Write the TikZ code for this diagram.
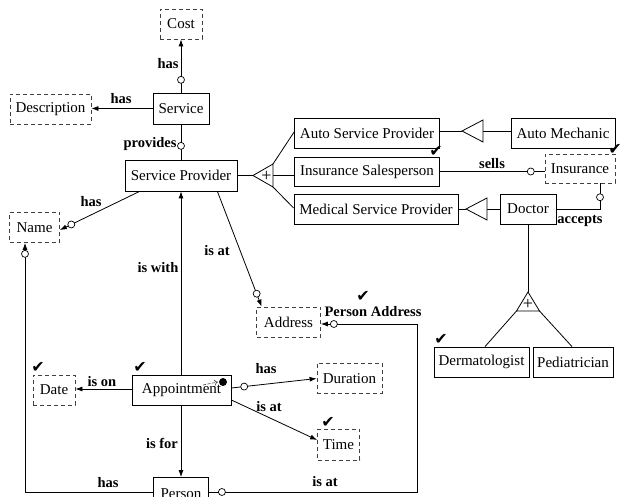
\documentclass[tikz,border=0pt]{standalone}
\usepackage{fontspec}
\setmainfont{Liberation Serif}
\newfontfamily\chkfont{DejaVu Sans}
\usetikzlibrary{arrows.meta,calc}
\begin{document}
\begin{tikzpicture}[x=1pt,y=-1pt,
  ent/.style={draw, line width=0.8pt, inner sep=0pt, font=\fontsize{15}{17}\selectfont},
  val/.style={ent, draw=black!75, dash pattern=on 4pt off 3pt},
  lab/.style={font=\bfseries\fontsize{14.5}{16}\selectfont, inner sep=0pt},
  conn/.style={line width=0.8pt},
  arr/.style={conn, -{Latex[length=7pt,width=5pt]}},
  circ/.style={circle, draw, fill=white, line width=0.7pt, inner sep=0pt, minimum size=7pt},
  tick/.style={font=\chkfont\fontsize{16}{16}\selectfont, inner sep=0pt},
  gen/.style={draw, line width=0.8pt, fill=white},
  plus/.style={font=\fontsize{18}{18}\selectfont, inner sep=0pt}
]
\useasboundingbox (0,0) rectangle (622,497);
\clip (0,0) rectangle (622,497);
\fill[white] (0,0) rectangle (622,497);

% entities
\node[val, minimum width=42pt, minimum height=30pt] (cost) at (181,24) {Cost};
\node[ent, minimum width=56pt, minimum height=31pt] (service) at (181,108.5) {Service};
\node[val, minimum width=81pt, minimum height=30pt] (desc) at (50.5,109) {Description};
\node[ent, minimum width=112pt, minimum height=31pt] (sp) at (181,175.5) {Service Provider};
\node[ent, minimum width=145pt, minimum height=30pt] (asp) at (367,133) {Auto Service Provider};
\node[ent, minimum width=145pt, minimum height=29pt] (is) at (367,171.5) {Insurance Salesperson};
\node[ent, minimum width=164pt, minimum height=30pt] (msp) at (376,209) {Medical Service Provider};
\node[ent, minimum width=104pt, minimum height=30pt] (am) at (563,133) {Auto Mechanic};
\node[val, minimum width=70pt, minimum height=29pt] (ins) at (580,168.5) {Insurance};
\node[ent, minimum width=56pt, minimum height=30pt] (doc) at (528,209) {Doctor};
\node[ent, minimum width=95pt, minimum height=30pt] (derm) at (481.5,362) {Dermatologist};
\node[ent, minimum width=80pt, minimum height=30pt] (ped) at (573,362) {Pediatrician};
\node[val, minimum width=50pt, minimum height=30pt] (name) at (34.5,227.5) {Name};
\node[val, minimum width=64pt, minimum height=30pt] (addr) at (288.5,322) {Address};
\node[ent, minimum width=99pt, minimum height=30pt] (appt) at (181.5,390) {Appointment};
\node[val, minimum width=42pt, minimum height=30pt] (date) at (54,390) {Date};
\node[val, minimum width=65pt, minimum height=30pt] (dur) at (349.5,378.5) {Duration};
\node[val, minimum width=42pt, minimum height=31pt] (time) at (338.5,444.5) {Time};
\node[ent, minimum width=55pt, minimum height=33pt] (person) at (181,494) {Person};

% Service connectors
\draw[arr] (service.north) -- node[circ,pos=0.24]{} (cost.south);
\draw[arr] (service.west) -- (service.west -| desc.east);
\draw[conn] (service.south) -- node[circ,pos=0.61]{} (sp.north);

% Service provider connectors
\draw[arr] ([xshift=15pt]sp.south west) -- node[circ,pos=0.857]{} ([yshift=-2.5pt]name.east);
\draw[arr] ([xshift=-20pt]sp.south east) -- node[circ,pos=0.888]{} ([xshift=5.5pt]addr.north west);

% generalization of service provider
\coordinate (t1a) at (253,175.5);
\coordinate (t1u) at (273,164);
\coordinate (t1d) at (273,187);
\coordinate (t1m) at (273,175.5);
\draw[conn] (sp.east) -- (t1a);
\draw[conn] (t1u) -- ([yshift=1pt]asp.west);
\draw[conn] (t1m) -- (t1m -| is.west);
\draw[conn] (t1d) -- ([yshift=1pt]msp.west);
\draw[gen] (t1a) -- (t1u) -- (t1d) -- cycle;
\node[plus] (t1p) at (266.5,176.5) {+};

% auto mechanic
\coordinate (t2a) at (462,131);
\coordinate (t2u) at (483,120);
\coordinate (t2d) at (483,142);
\coordinate (t2m) at (483,131);
\draw[conn] (asp.east |- t2a) -- (t2a);
\draw[conn] (t2m) -- (t2m -| am.west);
\draw[gen] (t2a) -- (t2u) -- (t2d) -- cycle;

% doctor
\coordinate (t3a) at (466,209);
\coordinate (t3u) at (487,198);
\coordinate (t3d) at (487,220);
\coordinate (t3m) at (487,209);
\draw[conn] (msp.east) -- (t3a);
\draw[conn] (t3m) -- (doc.west);
\draw[gen] (t3a) -- (t3u) -- (t3d) -- cycle;

% doctor specializations
\coordinate (t4a) at (528,292);
\coordinate (t4l) at (516.5,311);
\coordinate (t4r) at (539.5,311);
\draw[conn] (doc.south) -- (t4a);
\draw[conn] (t4l) -- ([xshift=3.5pt]derm.north);
\draw[conn] (t4r) -- ([xshift=-1pt]ped.north);
\draw[gen] (t4a) -- (t4l) -- (t4r) -- cycle;
\node[plus] (t4p) at (528,304) {+};

% insurance
\draw[conn] (is.east) -- node[circ,pos=0.868]{} (is.east -| ins.west);
\coordinate (c1) at (600,209);
\draw[conn] ([xshift=20pt]ins.south) -- node[circ,pos=0.54]{} (c1) -- (doc.east |- c1);

% appointment
\draw[arr] (sp.south |- appt.north) -- (sp.south);
\draw[arr] (sp.south |- appt.south) -- (sp.south |- person.north);
\draw[arr] ([yshift=1pt]appt.west) -- ([yshift=1pt]date.east);
\draw[arr] ([yshift=2pt]appt.east) -- node[circ,pos=0.15]{} (dur.west);
\draw[arr] ([yshift=-10pt]appt.east) -- ([yshift=4.5pt]time.west);
\node[circle, fill=black, inner sep=0pt, minimum size=8pt] (appdot) at (223,382) {};
\draw[line width=0.6pt, black!75, dash pattern=on 3pt off 1.5pt, -{To[length=3.5pt,width=6pt]}] (203,385) -- ([xshift=-1pt]appdot.west);

% person
\coordinate (c2) at (417,492);
\coordinate (c3) at (417,324);
\draw[arr] ([yshift=2pt]person.east) -- node[circ,pos=0.0625]{} (c2) -- (c3) -- node[circ,pos=0.865]{} (c3 -| addr.east);
\coordinate (c4) at (25,492);
\draw[arr] ([yshift=2pt]person.west) -- (c4) -- node[circ,pos=0.956]{} (c4 |- name.south);

% labels
\node[lab] (l1) at (168,64) {has};
\node[lab] (l2) at (121,99) {has};
\node[lab] (l3) at (150,144) {provides};
\node[lab] (l4) at (91,202) {has};
\node[lab] (l5) at (217,251) {is at};
\node[lab] (l6) at (158,268) {is with};
\node[lab] (l7) at (492,164) {sells};
\node[lab] (l8) at (580,221) {accepts};
\node[lab] (l9) at (373,312) {Person Address};
\node[lab] (l10) at (102,382) {is on};
\node[lab] (l11) at (266,369) {has};
\node[lab] (l12) at (269,407) {is at};
\node[lab] (l13) at (162,443) {is for};
\node[lab] (l14) at (108,483) {has};
\node[lab] (l15) at (325,482) {is at};

% ticks
\node[tick] (k1) at (436,151) {✔};
\node[tick] (k2) at (615,149) {✔};
\node[tick] (k3) at (363,296) {✔};
\node[tick] (k4) at (140,367) {✔};
\node[tick] (k5) at (38,367) {✔};
\node[tick] (k6) at (328,422) {✔};
\node[tick] (k7) at (441,339) {✔};
\end{tikzpicture}
\end{document}
